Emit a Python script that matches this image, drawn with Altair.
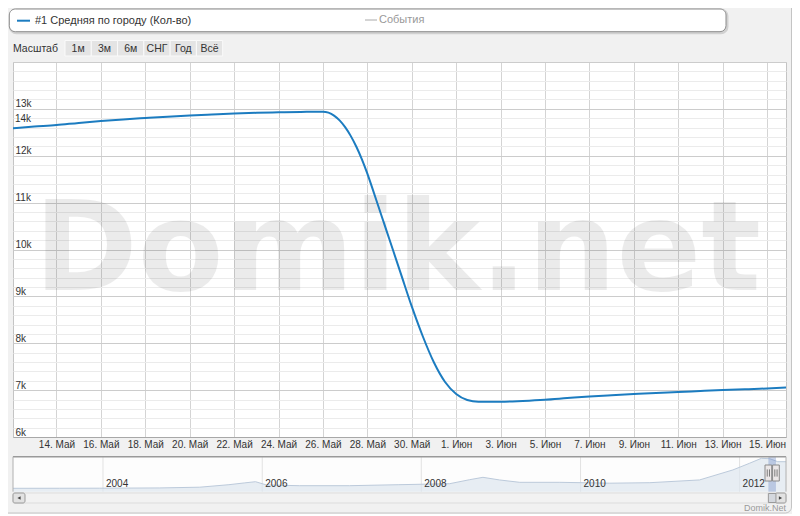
import json
import altair as alt
import pandas as pd

# ---------------- data ----------------
series_name = "#1 Средняя по городу (Кол-во)"
events_name = "События"
range_label = "Масштаб"
range_buttons = ["1м", "3м", "6м", "СНГ", "Год", "Всё"]
credit_text = "Domik.Net"
watermark_text = "Domik.net"

main_dates = [
    "2012-05-12T00:00", "2012-05-13T00:00", "2012-05-14T00:00", "2012-05-15T00:00",
    "2012-05-16T00:00", "2012-05-17T00:00", "2012-05-18T00:00", "2012-05-19T00:00",
    "2012-05-20T00:00", "2012-05-21T00:00", "2012-05-22T00:00", "2012-05-23T00:00",
    "2012-05-24T00:00", "2012-05-25T00:00",
    "2012-05-26T00:00", "2012-05-26T06:00", "2012-05-26T12:00", "2012-05-26T18:00",
    "2012-05-27T00:00", "2012-05-27T06:00", "2012-05-27T12:00", "2012-05-27T18:00",
    "2012-05-28T00:00", "2012-05-28T06:00", "2012-05-28T12:00", "2012-05-28T18:00",
    "2012-05-29T00:00", "2012-05-29T12:00", "2012-05-30T00:00", "2012-05-30T12:00",
    "2012-05-31T00:00", "2012-05-31T12:00", "2012-06-01T00:00", "2012-06-01T12:00",
    "2012-06-02T00:00", "2012-06-03T00:00", "2012-06-04T00:00", "2012-06-05T00:00",
    "2012-06-06T00:00", "2012-06-07T00:00", "2012-06-08T00:00", "2012-06-09T00:00",
    "2012-06-10T00:00", "2012-06-11T00:00", "2012-06-12T00:00", "2012-06-13T00:00",
    "2012-06-14T00:00", "2012-06-15T00:00", "2012-06-15T21:00",
]
main_values = [
    12586, 12622, 12655, 12700, 12740, 12775, 12805, 12833,
    12858, 12880, 12900, 12915, 12926, 12934,
    12940, 12919, 12857, 12754,
    12610, 12424, 12197, 11929,
    11619, 11273, 10917, 10562,
    10207, 9497, 8786, 8144,
    7589, 7173, 6917, 6789,
    6751, 6752, 6770, 6795,
    6830, 6864, 6892, 6917,
    6940, 6960, 6982, 7002,
    7020, 7035, 7056,
]

view_start = "2012-05-12T01:00"
view_end = "2012-06-15T20:30"

x_ticks = [
    "2012-05-14", "2012-05-16", "2012-05-18", "2012-05-20", "2012-05-22",
    "2012-05-24", "2012-05-26", "2012-05-28", "2012-05-30", "2012-06-01",
    "2012-06-03", "2012-06-05", "2012-06-07", "2012-06-09", "2012-06-11",
    "2012-06-13", "2012-06-15",
]
month_names = ["Янв", "Фев", "Мар", "Апр", "Май", "Июн",
               "Июл", "Авг", "Сен", "Окт", "Ноя", "Дек"]
y_ticks = [6000, 7000, 8000, 9000, 10000, 11000, 12000, 13000]
stray_label = ["14k"]
stray_value = [12670]

nav_dates = [
    "2002-11-14", "2003-06-15", "2003-12-15", "2004-09-15", "2005-03-20",
    "2005-08-01", "2005-10-10", "2005-12-01", "2006-01-20", "2006-06-20",
    "2007-02-05", "2007-09-20", "2008-05-10", "2008-08-10", "2008-10-10",
    "2008-12-25", "2009-03-28", "2009-09-28", "2010-05-15", "2010-11-15",
    "2011-07-01", "2011-12-01", "2012-02-15", "2012-04-10", "2012-05-18",
    "2012-06-24", "2012-08-01",
]
nav_values = [
    1360, 1380, 1400, 1500, 1800,
    2800, 3500, 4000, 2700, 2400,
    2400, 2800, 3200, 4800, 5750,
    4700, 3750, 3750, 3400, 3600,
    4700, 8700, 11350, 13350, 13200,
    12000, 12000,
]
nav_start = "2002-11-14"
nav_end = "2012-08-01"
year_labels = ["2004", "2006", "2008", "2010", "2012"]


def ms(s):
    return int(pd.Timestamp(s, tz="UTC").value // 10**6)


W, H = 773, 375
BLUE = "#1c7cc0"
FONT = "Liberation Sans"

main_df = pd.DataFrame({"date": [ms(d) for d in main_dates], "value": main_values})
nav_df = pd.DataFrame({"d": [ms(d) for d in nav_dates], "v": nav_values})
year_df = pd.DataFrame({"d": [ms(y + "-01-01") for y in year_labels], "t": year_labels})
sel_df = pd.DataFrame({"s": [ms(view_start)], "e": [ms(view_end)]})
handle_df = pd.DataFrame({"d": [ms(view_start), ms(view_end)]})
stray_df = pd.DataFrame({"t": stray_label, "v": stray_value})
btn_df = pd.DataFrame({"b": range_buttons})
one = pd.DataFrame({"k": [0]})

months_js = json.dumps(month_names, ensure_ascii=False)
yt_js = json.dumps(y_ticks)

x_scale = alt.Scale(type="utc", domain=[ms(view_start), ms(view_end)])
y_scale = alt.Scale(domain=[6000, 14000], nice=False, zero=False)

x_axis = alt.Axis(
    values=[ms(d) for d in x_ticks],
    labelExpr=f"utcdate(datum.value) + '. ' + {months_js}[utcmonth(datum.value)]",
    grid=True, gridColor="#d4d4d4", domainColor="#a8a8a8", ticks=False,
    labelPadding=2, labelFontSize=10, labelColor="#333333", labelFont=FONT,
    labelOverlap=False, labelFlush=False, title=None,
)
y_axis = alt.Axis(
    values=list(range(6000, 14001, 200)),
    labelExpr=f"indexof({yt_js}, datum.value) >= 0 ? (datum.value / 1000) + 'k' : ''",
    gridColor={"condition": {"test": f"indexof({yt_js}, datum.value) >= 0 || datum.value == 14000",
                             "value": "#cccccc"}, "value": "#ebebeb"},
    domain=False, ticks=False, tickSize=0, labelAlign="left", labelBaseline="bottom",
    labelPadding=-2, labelFontSize=10, labelColor="#333333", labelFont=FONT,
    labelOverlap=False, labelFlush=False, title=None,
)


def box(x, x2, y, y2, **kw):
    return alt.Chart(one).mark_rect(**kw).encode(
        x=alt.value(x), x2=alt.value(x2), y=alt.value(y), y2=alt.value(y2))


def txt(text, x, y, **kw):
    return alt.Chart(pd.DataFrame({"t": [text]})).mark_text(**kw).encode(
        x=alt.value(x), y=alt.value(y), text="t:N")


def hline(x, x2, y, **kw):
    return alt.Chart(one).mark_rule(**kw).encode(x=alt.value(x), x2=alt.value(x2), y=alt.value(y))


def vline(x, y, y2, **kw):
    return alt.Chart(one).mark_rule(**kw).encode(x=alt.value(x), y=alt.value(y), y2=alt.value(y2))


# watermark (semi-transparent so grid shows through)
watermark = txt(watermark_text, 384.5, 228, font="DejaVu Sans", fontWeight="bold",
                fontSize=125, align="center", baseline="alphabetic", color="#000000", opacity=0.075)

line = alt.Chart(main_df).mark_line(interpolate="monotone", color=BLUE, strokeWidth=2, clip=True).encode(
    x=alt.X("date:T", scale=x_scale, axis=x_axis),
    y=alt.Y("value:Q", scale=y_scale, axis=y_axis),
)

stray = alt.Chart(stray_df).mark_text(align="left", baseline="bottom", fontSize=10, font=FONT,
                                      color="#333333").encode(
    x=alt.value(2), y=alt.Y("v:Q", scale=y_scale, axis=None), text="t:N")

# legend box
leg_shadow = box(-2.7, 714, -52, -29.3, fill="transparent", stroke="#000000", strokeOpacity=0.13,
                 strokeWidth=3, cornerRadius=6)
leg_box = box(-3.7, 713, -53, -30.3, fill="white", stroke="#8c8c8c", strokeWidth=1, cornerRadius=6)
leg_icon1 = hline(4, 17, -41.3, color=BLUE, strokeWidth=2)
leg_text1 = txt(series_name, 22, -41.5, align="left", baseline="middle", fontSize=11, font=FONT, color="#333333")
leg_icon2 = hline(352, 364, -42, color="#aaaaaa", strokeWidth=1)
leg_text2 = txt(events_name, 366, -42, align="left", baseline="middle", fontSize=11, font=FONT, color="#999999")

# range selector
rs_label = txt(range_label, 0, -13.3, align="left", baseline="middle", fontSize=10.5, font=FONT, color="#333333")
btn_x = alt.X("b:N", scale=alt.Scale(type="band", domain=range_buttons, range=[52, 209.7],
                                     paddingInner=0, paddingOuter=0), axis=None, sort=range_buttons)
btn_rect = alt.Chart(btn_df).mark_rect(fill="#e4e4e4", stroke="#fafafa", strokeWidth=1).encode(
    x=btn_x, y=alt.value(-21.5), y2=alt.value(-6))
btn_text = alt.Chart(btn_df).mark_text(baseline="middle", fontSize=10.5, font=FONT, color="#333333").encode(
    x=btn_x, y=alt.value(-13.3), text="b:N")

# navigator
NT, NB = 394.7, 429.7
nav_x = alt.Scale(type="utc", domain=[ms(nav_start), ms(nav_end)], range=[0, W])
nav_y = alt.Scale(domain=[0, 14000], range=[NB, NT], nice=False, zero=True)
nav_bg = box(0, W, NT, NB, fill="#fdfdfd")
nav_years = alt.Chart(year_df).mark_rule(color="#e2e2e2").encode(
    x=alt.X("d:T", scale=nav_x, axis=None), y=alt.value(NT), y2=alt.value(NB))
nav_area = alt.Chart(nav_df).mark_area(color="#dde5ee", line={"color": "#bccadb", "strokeWidth": 1}).encode(
    x=alt.X("d:T", scale=nav_x, axis=None), y=alt.Y("v:Q", scale=nav_y, axis=None))
nav_ytext = alt.Chart(year_df).mark_text(align="left", dx=3, baseline="middle", fontSize=10, font=FONT,
                                         color="#333333").encode(
    x=alt.X("d:T", scale=nav_x, axis=None), y=alt.value(422.3), text="t:N")
nav_sel = alt.Chart(sel_df).mark_rect(fill="#6685c2", opacity=0.35).encode(
    x=alt.X("s:T", scale=nav_x, axis=None), x2="e:T", y=alt.value(NT), y2=alt.value(NB))
nav_top = hline(0, W, NT, color="#9a9a9a", strokeWidth=1.5)
nav_left = vline(0, NT, NB, color="#b0b0b0", strokeWidth=1)
nav_right = vline(W, NT, NB, color="#b0b0b0", strokeWidth=1)
handles = alt.Chart(handle_df).mark_point(
    shape="M-0.42,-1L0.42,-1L0.42,1L-0.42,1Z", size=256, filled=True, fill="#ebe7e8",
    stroke="#8a8a8a", strokeWidth=1, opacity=1).encode(
    x=alt.X("d:T", scale=nav_x, axis=None), y=alt.value(411))
grips = alt.Chart(handle_df).mark_point(
    shape="M-0.14,-0.45L-0.14,0.45M0.14,-0.45L0.14,0.45", size=256, filled=False,
    stroke="#7a7a7a", strokeWidth=1, opacity=1).encode(
    x=alt.X("d:T", scale=nav_x, axis=None), y=alt.value(411))

# scrollbar
sb_track = box(0, W, 431, 441, fill="#f2f2f2", stroke="#dddddd", strokeWidth=1)
sb_left = box(0, 12, 431, 441, fill="#e2e2e2", stroke="#9a9a9a", strokeWidth=1, cornerRadius=2)
sb_right = box(762, W, 431, 441, fill="#e2e2e2", stroke="#9a9a9a", strokeWidth=1, cornerRadius=2)
arr_l = alt.Chart(one).mark_point(shape="triangle-left", size=14, filled=True, color="#444444", opacity=1).encode(
    x=alt.value(6), y=alt.value(436))
arr_r = alt.Chart(one).mark_point(shape="triangle-right", size=14, filled=True, color="#444444", opacity=1).encode(
    x=alt.value(767.5), y=alt.value(436))
sb_thumb = alt.Chart(sel_df).mark_rect(fill="#d4d8de", stroke="#9a9a9a", strokeWidth=1).encode(
    x=alt.X("s:T", scale=nav_x, axis=None), x2="e:T", y=alt.value(431.5), y2=alt.value(440.5))

credit = txt(credit_text, W, 446, align="right", baseline="middle", fontSize=9, font=FONT, color="#9a9a9a")

outer = box(-20, 778.5, -61.5, 451, fill="transparent", stroke="#c4c4c4", strokeWidth=1, cornerRadius=6)
white_b = box(-20, 800, 452, 470, fill="white")

chart = alt.layer(
    watermark, line, stray,
    leg_shadow, leg_box, leg_icon1, leg_text1, leg_icon2, leg_text2,
    rs_label, btn_rect, btn_text,
    nav_bg, nav_years, nav_area, nav_ytext, nav_sel, nav_top, nav_left, nav_right, handles, grips,
    sb_track, sb_left, sb_right, arr_l, arr_r, sb_thumb,
    credit, white_b, outer,
).resolve_scale(x="independent", y="independent").properties(
    width=W, height=H,
    padding={"left": 5, "top": 54, "right": 6, "bottom": 79},
    autosize=alt.AutoSizeParams(type="none"),
    background="#f1f1f1",
).configure_view(fill="white", stroke="#c4c4c4", strokeWidth=1)

chart.save("out.html", embed_options={"renderer": "svg", "actions": False})
